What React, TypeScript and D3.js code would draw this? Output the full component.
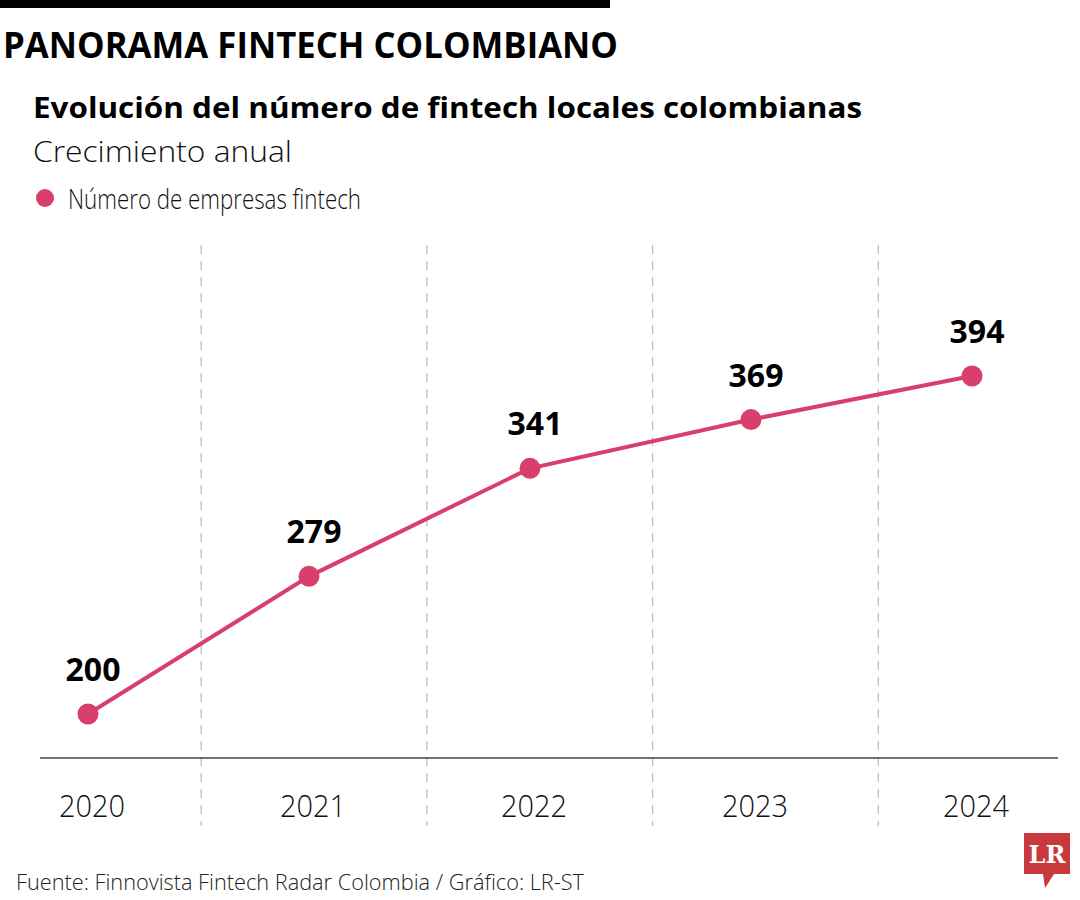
import React from "react";
import * as d3 from "d3";

const years = ["2020", "2021", "2022", "2023", "2024"];
const values = [200, 279, 341, 369, 394];
const seriesName = "Número de empresas fintech";

const W = 1080;
const H = 900;
const RED = "#d83f6c";
const FONT = "'Open Sans', 'Noto Sans', sans-serif";

export default function App() {
  const x = d3.scalePoint<string>().domain(years).range([88, 972]);
  const band = d3.scaleBand<string>().domain(years).range([-24.5, 1104]);
  const y = d3.scaleLinear().domain([0, 394]).range([1062.5, 376]);
  const line = d3
    .line<number>()
    .x((_, i) => x(years[i]) as number)
    .y((d) => y(d));

  return (
    <svg
      width={W}
      height={H}
      style={{ position: "absolute", left: 0, top: 0, background: "#fff" }}
      fontFamily={FONT}
    >
      <rect x={0} y={0} width={610} height={8} fill="#000" />
      <text x={3} y={58} fontSize={35} fontWeight={700} textLength={615} lengthAdjust="spacingAndGlyphs" fill="#000">
        PANORAMA FINTECH COLOMBIANO
      </text>
      <text x={33} y={118} fontSize={28} fontWeight={700} textLength={829} lengthAdjust="spacingAndGlyphs" fill="#000">
        Evolución del número de fintech locales colombianas
      </text>
      <text x={33} y={162} fontSize={30} fontWeight={300} textLength={259} lengthAdjust="spacingAndGlyphs" fill="#111">
        Crecimiento anual
      </text>
      <circle cx={45} cy={198} r={9} fill={RED} />
      <text x={68} y={209} fontSize={27} fontWeight={300} textLength={293} lengthAdjust="spacingAndGlyphs" fill="#111">
        {seriesName}
      </text>

      {years.slice(1).map((yr) => (
        <line
          key={"g" + yr}
          x1={band(yr) as number}
          x2={band(yr) as number}
          y1={245}
          y2={826}
          stroke="#bbb"
          strokeWidth={1.2}
          strokeDasharray="9,7"
        />
      ))}
      <line x1={40} x2={1058} y1={758} y2={758} stroke="#444" strokeWidth={1.5} />

      {years.map((yr) => (
        <text
          key={"x" + yr}
          x={(x(yr) as number) + 4}
          y={817}
          fontSize={31}
          fontWeight={300}
          textAnchor="middle"
          textLength={66}
          lengthAdjust="spacingAndGlyphs"
          fill="#111"
        >
          {yr}
        </text>
      ))}

      <path d={line(values) || ""} fill="none" stroke={RED} strokeWidth={4} />
      {values.map((v, i) => (
        <g key={"p" + i}>
          <circle cx={x(years[i]) as number} cy={y(v)} r={10.5} fill={RED} />
          <text
            x={(x(years[i]) as number) + 5}
            y={y(v) - 33}
            fontSize={32}
            fontWeight={700}
            textAnchor="middle"
            fill="#000"
          >
            {v}
          </text>
        </g>
      ))}

      <text x={16} y={890} fontSize={22} fontWeight={300} textLength={568} lengthAdjust="spacingAndGlyphs" fill="#222">
        Fuente: Finnovista Fintech Radar Colombia / Gráfico: LR-ST
      </text>

      <g>
        <path d="M1024,833 H1070 V874 H1054 L1045,888 L1043,874 H1024 Z" fill="#c8393b" />
        <text x={1047} y={863} fontSize={24} fontWeight={700} textAnchor="middle" fill="#fff" fontFamily="'DejaVu Serif', 'Liberation Serif', serif">
          LR
        </text>
      </g>
    </svg>
  );
}
